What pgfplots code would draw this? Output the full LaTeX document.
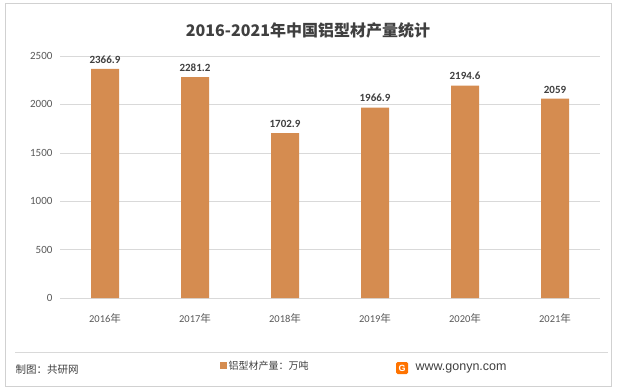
\documentclass[border=0pt]{standalone}
\usepackage{pgfplots}
\pgfplotsset{compat=1.18}
\usepackage{fontspec}
\setmainfont{Carlito}
\newfontfamily\cjk{Noto Sans CJK SC}
\newfontfamily\web{Liberation Sans}
\definecolor{barc}{RGB}{213,140,80}
\definecolor{txt}{RGB}{89,89,89}
\definecolor{dark}{RGB}{64,64,64}
\begin{document}
\begin{tikzpicture}[x=1pt,y=1pt]
\useasboundingbox (0,0) rectangle (617,389);
\fill[white] (0,0) rectangle (617,389);
\draw[black!18, line width=0.8pt] (5,3) rectangle (611,386);
\draw[black!15, line width=0.6pt] (15,37) -- (608,37);
\node[font=\cjk\bfseries\fontsize{16}{18}\selectfont, text=dark] at (308,359) {2016-2021年中国铝型材产量统计};
\begin{axis}[
  at={(60pt,91pt)}, anchor=south west,
  scale only axis, width=540pt, height=242pt,
  ybar, bar width=28pt,
  xmin=-0.5, xmax=5.5, ymin=0, ymax=2500,
  ytick={0,500,1000,1500,2000,2500},
  xtick={0,1,2,3,4,5},
  xticklabels={2016{\cjk 年},2017{\cjk 年},2018{\cjk 年},2019{\cjk 年},2020{\cjk 年},2021{\cjk 年}},
  axis line style={draw=none}, tick style={draw=none},
  ymajorgrids, grid style={black!15, line width=0.6pt},
  /pgf/number format/assume math mode=true,
  /pgf/number format/1000 sep={},
  yticklabel style={font=\fontsize{11}{13}\selectfont, text=txt, xshift=-4pt},
  xticklabel style={font=\fontsize{10.5}{12}\selectfont, text=txt, yshift=-8pt},
  nodes near coords,
  nodes near coords style={font=\bfseries\fontsize{11}{13}\selectfont, text=dark, yshift=2pt,
    /pgf/number format/fixed, /pgf/number format/precision=1},
  legend style={at={(0.38,-0.28)}, anchor=center, draw=none, fill=none,
    font=\cjk\fontsize{10}{12}\selectfont, text=dark},
  legend image code/.code={\fill[barc] (0pt,-3.5pt) rectangle (7pt,3.5pt);},
]
\addplot[fill=barc, draw=none] coordinates {(0,2366.9) (1,2281.2) (2,1702.9) (3,1966.9) (4,2194.6) (5,2059)};
\addlegendentry{铝型材产量：万吨}
\end{axis}
\node[anchor=west, font=\cjk\fontsize{10.5}{12}\selectfont, text=dark] at (12,19) {制图：共研网};
\node[fill=orange!90!red, rounded corners=1.5pt, text=white, font=\web\bfseries\fontsize{9}{9}\selectfont, inner sep=1.5pt, minimum size=12pt] at (402,21) {G};
\node[anchor=west, font=\web\fontsize{12.5}{14}\selectfont, text=dark] at (412,21) {www.gonyn.com};
\end{tikzpicture}
\end{document}
